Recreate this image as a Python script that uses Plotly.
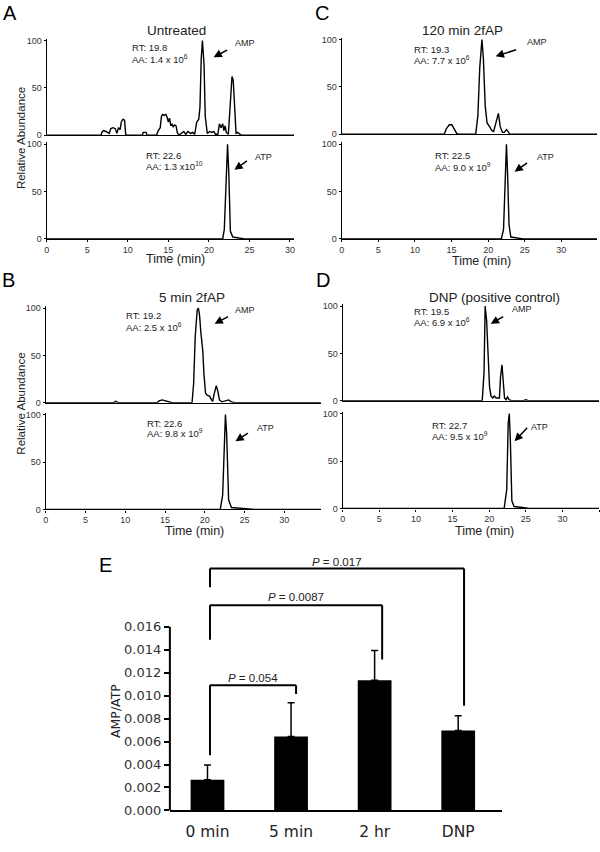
import plotly.graph_objects as go

# ---------------- data ----------------
A_AMP_t = [0, 6.7, 6.8, 7.0, 7.3, 7.55, 7.7, 7.9, 8.2, 8.45, 8.65, 8.85, 9.05, 9.2, 9.4, 9.6, 9.75,
           11.8, 11.9, 12.25, 12.4, 13.55, 13.75, 14.0, 14.15, 14.3, 14.5, 14.7, 14.85, 15.0, 15.15,
           15.3, 15.45, 15.6, 15.8, 15.95, 16.1, 16.3, 16.6, 16.9, 17.15, 17.4, 17.75, 18.0, 18.25,
           18.5, 18.75, 18.9, 19.05, 19.2, 19.4, 19.55, 19.8, 20.1, 20.35, 20.6, 20.8, 21.1, 21.3,
           21.5, 21.7, 21.85, 22.0, 22.15, 22.4, 22.65, 22.85, 23.0, 23.15, 23.35, 23.55, 23.75, 24.0, 30.5]
A_AMP_v = [0, 0, 3, 5, 4, 3, 2, 7, 8, 7, 2, 8, 6, 14, 17, 16, 0,
           0, 3, 3, 0, 0, 5, 8, 20, 22, 21, 22, 19, 14, 18,
           10, 12, 9, 11, 10, 3, 0, 2, 4, 1, 4, 2, 3, 1,
           14, 17, 30, 80, 100, 75, 20, 2, 4, 3, 4, 1, 1, 12,
           8, 12, 5, 10, 3, 1, 30, 62, 58, 30, 2, 3, 2, 0, 0]
A_ATP_t = [0, 21.7, 21.9, 22.1, 22.3, 22.45, 22.65, 22.95, 23.55, 24.4, 30.5]
A_ATP_v = [0, 0, 10, 60, 100, 70, 8, 2, 1, 0, 0]

C_AMP_t = [0, 14.0, 14.3, 14.7, 15.05, 15.35, 15.7, 16.05, 18.3, 18.6, 18.85, 19.15, 19.35, 19.6,
           19.85, 20.2, 20.5, 20.75, 21.1, 21.4, 21.65, 21.95, 22.2, 22.5, 22.7, 22.95, 34.9]
C_AMP_v = [0, 0, 6, 10, 10, 6, 1, 0, 0, 20, 70, 100, 80, 30,
           12, 8, 4, 3, 15, 22, 8, 2, 2, 5, 3, 0, 0]
C_ATP_t = [0, 21.8, 22.1, 22.35, 22.5, 22.65, 22.85, 23.1, 23.85, 24.75, 34.9]
C_ATP_v = [0, 0, 10, 80, 100, 70, 15, 2, 1, 0, 0]

B_AMP_t = [0, 8.5, 8.8, 9.2, 14.0, 14.25, 14.65, 15.1, 15.5, 15.9, 18.4, 18.6, 18.8, 19.05, 19.2,
           19.35, 19.5, 19.75, 19.9, 20.1, 20.3, 20.6, 20.85, 21.0, 21.2, 21.45, 21.65, 21.85, 22.15,
           22.6, 23.0, 23.35, 23.8, 34.6]
B_AMP_v = [0, 0, 1.5, 0, 0, 2, 3, 2, 1, 0, 0, 20, 70, 98, 100,
           92, 75, 55, 30, 10, 8, 7, 3, 2, 10, 18, 12, 3, 1,
           2, 3, 1, 0, 0]
B_ATP_t = [0, 21.95, 22.25, 22.45, 22.6, 22.75, 23.0, 23.35, 24.7, 26.3, 34.6]
B_ATP_v = [0, 0, 15, 80, 100, 80, 10, 2, 1, 0, 0]

D_AMP_t = [0, 8.9, 9.2, 9.5, 19.05, 19.3, 19.45, 19.65, 19.85, 20.05, 20.25, 20.5, 20.7, 20.95,
           21.4, 21.55, 21.75, 21.95, 22.1, 22.3, 22.5, 22.75, 23.2, 24.6, 25.0, 25.45, 35.0]
D_AMP_v = [0, 0, 0.7, 0, 0, 30, 100, 85, 40, 15, 5, 3, 5, 3,
           3, 25, 38, 20, 3, 1, 4, 1, 0, 0, 1, 0, 0]
D_ATP_t = [0, 22.05, 22.4, 22.6, 22.75, 22.9, 23.1, 23.4, 24.55, 25.45, 35.0]
D_ATP_v = [0, 0, 20, 90, 100, 70, 8, 2, 1, 0, 0]

CHROM_YTICKS = [0, 50, 100]
CHROM_XTICKS = [0, 5, 10, 15, 20, 25, 30, 35]

E_categories = ["0 min", "5 min", "2 hr", "DNP"]
E_ratio = [0.00267, 0.00645, 0.01135, 0.00697]
E_sem = [0.00129, 0.00293, 0.00259, 0.00129]
E_yticks = [0.000, 0.002, 0.004, 0.006, 0.008, 0.010, 0.012, 0.014, 0.016]
E_pvalues = ["0.054", "0.0087", "0.017"]

# ---------------- helpers ----------------
W, H = 600, 852
def PX(x):
    return x / W
def PY(y):
    return 1 - y / H

ARIAL = "Liberation Sans, Arial, sans-serif"
LUCIDA = "DejaVu Sans, Verdana, sans-serif"
TXT = "#222222"

fig = go.Figure()
layout = dict(width=W, height=H, margin=dict(l=0, r=0, t=0, b=0),
              paper_bgcolor="white", plot_bgcolor="white", showlegend=False)
annotations = []
shapes = []

panels = [
    dict(letter="A", letter_xy=(7, 10), title="Untreated", title_xy=(175, 28),
         x0=44, x1=293, xmax=30.5, top=(134, 38), bot=(239, 143),
         amp=(A_AMP_t, A_AMP_v), atp=(A_ATP_t, A_ATP_v),
         amp_txt=("RT: 19.8", "AA: 1.4 x 10<sup>6</sup>"), amp_txt_xy=(128, 45, 57),
         atp_txt=("RT: 22.6", "AA: 1.3 x10<sup>10</sup>"), atp_txt_xy=(142, 155, 165),
         amp_lab=(232, 41), amp_arrow=((212, 55), (227, 47)),
         atp_lab=(252, 156), atp_arrow=((233, 169), (247, 159)),
         time_xy=(174, 259)),
    dict(letter="C", letter_xy=(321, 10), title="120 min 2fAP", title_xy=(463, 28),
         x0=341, x1=598, xmax=34.87, top=(133, 37), bot=(239, 143),
         amp=(C_AMP_t, C_AMP_v), atp=(C_ATP_t, C_ATP_v),
         amp_txt=("RT: 19.3", "AA: 7.7 x 10<sup>6</sup>"), amp_txt_xy=(412, 47, 58),
         atp_txt=("RT: 22.5", "AA: 9.0 x 10<sup>9</sup>"), atp_txt_xy=(433, 155, 166),
         amp_lab=(526, 40), amp_arrow=((496, 54), (518, 47)),
         atp_lab=(536, 156), atp_arrow=((515, 171), (529, 161)),
         time_xy=(482, 261)),
    dict(letter="B", letter_xy=(6, 281), title="5 min 2fAP", title_xy=(190, 298),
         x0=43, x1=320, xmax=34.6, top=(405, 309), bot=(513, 417),
         amp=(B_AMP_t, B_AMP_v), atp=(B_ATP_t, B_ATP_v),
         amp_txt=("RT: 19.2", "AA: 2.5 x 10<sup>6</sup>"), amp_txt_xy=(122, 317, 328),
         atp_txt=("RT: 22.6", "AA: 9.8 x 10<sup>9</sup>"), atp_txt_xy=(143, 426, 436),
         amp_lab=(232, 311), amp_arrow=((213, 325), (228, 317)),
         atp_lab=(254, 431), atp_arrow=((234, 444), (248, 435)),
         time_xy=(193, 535)),
    dict(letter="D", letter_xy=(322, 281), title="DNP (positive control)", title_xy=(495, 298),
         x0=342, x1=600, xmax=35.0, top=(403, 307), bot=(512, 416),
         amp=(D_AMP_t, D_AMP_v), atp=(D_ATP_t, D_ATP_v),
         amp_txt=("RT: 19.5", "AA: 6.9 x 10<sup>6</sup>"), amp_txt_xy=(412, 313, 323),
         atp_txt=("RT: 22.7", "AA: 9.5 x 10<sup>9</sup>"), atp_txt_xy=(430, 428, 439),
         amp_lab=(510, 310), amp_arrow=((491, 325), (505, 317)),
         atp_lab=(530, 430), atp_arrow=((515, 444), (529, 429)),
         time_xy=(485, 535)),
]

YTOP = 102.0
tickfont = dict(family=ARIAL, size=9, color="#333333")

def text_ann(x, y, text, size, family=ARIAL, xanchor="left", color=TXT, angle=0):
    annotations.append(dict(x=PX(x), y=PY(y), xref="paper", yref="paper", text=text,
                            showarrow=False, xanchor=xanchor, yanchor="middle",
                            textangle=angle, font=dict(family=family, size=size, color=color)))

def arrow_ann(head, tail):
    annotations.append(dict(x=PX(head[0]), y=PY(head[1]), xref="paper", yref="paper", text="",
                            showarrow=True, arrowhead=2, arrowsize=1.1, arrowwidth=1.5,
                            arrowcolor="black", ax=tail[0] - head[0], ay=tail[1] - head[1],
                            axref="pixel", ayref="pixel"))

n = 0
for p in panels:
    for part, (t, v) in (("top", p["amp"]), ("bot", p["atp"])):
        n += 1
        zero_px, hund_px = p[part]
        top_px = zero_px - (zero_px - hund_px) * YTOP / 100.0
        labels = part == "bot"
        layout["xaxis%d" % n] = dict(
            domain=[PX(p["x0"]), PX(p["x1"])], range=[0, p["xmax"]], anchor="y%d" % n,
            showline=True, linecolor="black", linewidth=1.3, showgrid=False, zeroline=False,
            tickvals=CHROM_XTICKS if labels else [], ticks="outside" if labels else "",
            ticklen=2, tickwidth=1, tickcolor="black", showticklabels=labels,
            tickfont=tickfont, fixedrange=True)
        layout["yaxis%d" % n] = dict(
            domain=[PY(zero_px), PY(top_px)], range=[0, YTOP], anchor="x%d" % n,
            showline=True, linecolor="black", linewidth=1.3, showgrid=False, zeroline=False,
            tickvals=CHROM_YTICKS, ticks="outside", ticklen=2, tickwidth=1, tickcolor="black",
            tickfont=tickfont, fixedrange=True)
        fig.add_trace(go.Scatter(x=t, y=v, mode="lines", line=dict(color="black", width=1.4),
                                 xaxis="x%d" % n, yaxis="y%d" % n, hoverinfo="skip"))
    # texts
    text_ann(p["letter_xy"][0], p["letter_xy"][1], p["letter"], 20, xanchor="center", color="black")
    text_ann(p["title_xy"][0], p["title_xy"][1], p["title"], 13.5, xanchor="center")
    text_ann(p["time_xy"][0], p["time_xy"][1], "Time (min)", 12.5, xanchor="center")
    x, y1, y2 = p["amp_txt_xy"]
    text_ann(x, y1, p["amp_txt"][0], 9.5)
    text_ann(x, y2, p["amp_txt"][1], 9.5)
    x, y1, y2 = p["atp_txt_xy"]
    text_ann(x, y1, p["atp_txt"][0], 9.5)
    text_ann(x, y2, p["atp_txt"][1], 9.5)
    text_ann(p["amp_lab"][0], p["amp_lab"][1], "AMP", 9)
    text_ann(p["atp_lab"][0], p["atp_lab"][1], "ATP", 9)
    arrow_ann(*p["amp_arrow"])
    arrow_ann(*p["atp_arrow"])

text_ann(18, 137, "Relative Abundance", 11.5, xanchor="center", angle=-90)
text_ann(18, 406, "Relative Abundance", 11.5, xanchor="center", angle=-90)

# ---------------- panel E ----------------
E_zero_px = 818
E_px_per_unit = 186 / 0.016
E_ymax = 0.0225
layout["xaxis9"] = dict(domain=[PX(168), PX(502)], range=[-0.45, 3.52], type="category",
                        categoryorder="array", categoryarray=E_categories, anchor="y9",
                        showline=True, linecolor="black", linewidth=2, showgrid=False,
                        zeroline=False, ticks="", ticklabelstandoff=6,
                        tickfont=dict(family=LUCIDA, size=15.5, color="#222222"), fixedrange=True)
layout["yaxis9"] = dict(domain=[PY(E_zero_px), PY(E_zero_px - E_ymax * E_px_per_unit)],
                        range=[0, E_ymax], anchor="x9", showline=False, showgrid=False,
                        zeroline=False, tickvals=E_yticks, tickformat=".3f", ticks="outside",
                        ticklen=5, tickwidth=2, tickcolor="black",
                        tickfont=dict(family=LUCIDA, size=13, color="#333333"), fixedrange=True)
fig.add_trace(go.Bar(x=E_categories, y=E_ratio, width=0.404, xaxis="x9", yaxis="y9",
                     marker=dict(color="black", line=dict(width=0)),
                     error_y=dict(type="data", symmetric=False, array=E_sem,
                                  arrayminus=[0] * len(E_sem), thickness=1.5, width=3.5,
                                  color="black"),
                     hoverinfo="skip"))
# y axis line only up to 0.016
shapes.append(dict(type="line", xref="paper", yref="y9", x0=PX(168), x1=PX(168),
                   y0=0, y1=E_yticks[-1], line=dict(color="black", width=2)))

# significance brackets: (left idx, left bottom, top, right idx, right bottom, label y)
brackets = [
    (0.03, 0.00482, 0.01092, 1.06, 0.01015, 0.01153),
    (0.03, 0.01488, 0.01789, 2.09, 0.01316, 0.01858),
    (0.03, 0.01944, 0.02108, 3.07, 0.00912, 0.02168),
]
for (lx, lb, top, rx, rb, ty), pv in zip(brackets, E_pvalues):
    for (xa, ya, xb, yb) in ((lx, lb, lx, top), (lx, top, rx, top), (rx, top, rx, rb)):
        shapes.append(dict(type="line", xref="x9", yref="y9", x0=xa, y0=ya, x1=xb, y1=yb,
                           line=dict(color="black", width=2)))
    annotations.append(dict(x=(lx + rx) / 2, y=ty, xref="x9", yref="y9",
                            text="<i>P</i> = " + pv, showarrow=False, xanchor="center",
                            yanchor="middle", font=dict(family=ARIAL, size=11.5, color=TXT)))

text_ann(113, 717, "AMP/ATP", 12.5, family=LUCIDA, xanchor="center", angle=-90)
text_ann(103, 569, "E", 20, xanchor="center", color="black")

layout["annotations"] = annotations
layout["shapes"] = shapes
fig.update_layout(**layout)
fig.write_html("out.html", config={"displayModeBar": False},
               post_script="document.body.style.margin='0px';document.body.style.overflow='hidden';")
